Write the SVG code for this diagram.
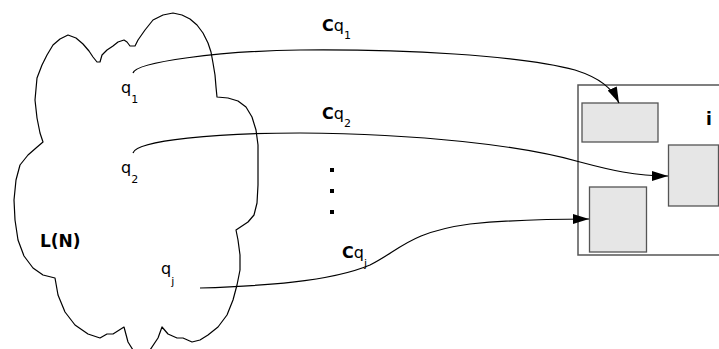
<svg xmlns="http://www.w3.org/2000/svg" width="719" height="349" viewBox="0 0 719 349">
<style>
.ln{fill:none;stroke:#000;stroke-width:1.2;stroke-linejoin:round}
.box{fill:#e6e6e6;stroke:#555;stroke-width:1.3}
.t{font-family:"DejaVu Sans",sans-serif;font-size:16px;fill:#000}
.b{font-weight:bold}
.s{font-size:11px}
</style>
<defs>
<marker id="ah" markerUnits="userSpaceOnUse" markerWidth="17" markerHeight="11" refX="16" refY="5" orient="auto">
<path d="M0,0 L16,5 L0,10 z" fill="#000"/>
</marker>
</defs>
<rect width="719" height="349" fill="#fff"/>
<g id="cloud">
<path class="ln" d="M37,78 L42,65 L47,55 L53,45 L60,39 L68,35 L76,38 L83,44 L89,51 L93,57 L97,62 L100,62 L102,55 L107,50 L113,46 L118,42 L124,40 L127,42 L130,46 L135,46 L138,40 L145,30 L153,20 L163,15 L173,13 L182,15 L190,19 L197,25 L203,33 L208,43 L211,52 L213,63 L215,75 L216,87 L217,97 L228,98 L238,101 L246,107 L252,117 L256,130 L258,145 L258,165 L258,185 L257,203 L254,215 L248,222 L236,230 L238,240 L240,255 L240,270 L237,285 L233,300 L227,315 L218,327 L208,335 L200,340 L192,342 L183,338 L177,338 L168,334 L162,327 L158,338 L150,350 L133,350 L128,342 L124,327 L113,334 L107,334 L100,338 L88,334 L75,325 L65,312 L58,295 L55,278 L43,275 L33,268 L24,256 L18,240 L15,220 L14,200 L16,180 L20,165 L28,155 L36,148 L43,142 L40,133 L37,118 L35,100 Z"/>
<text class="t b" x="40" y="247" font-size="17" style="font-size:17px">L(N)</text>
</g>
<g id="q1"><text class="t" x="121" y="93">q<tspan class="s" dy="10">1</tspan></text></g>
<g id="q2"><text class="t" x="121" y="173">q<tspan class="s" dy="10">2</tspan></text></g>
<g id="qj"><text class="t" x="161" y="274">q<tspan class="s" dy="11">j</tspan></text></g>
<g id="dots">
<rect x="330" y="168" width="4" height="4"/>
<rect x="330" y="189" width="4" height="4"/>
<rect x="330" y="210" width="4" height="4"/>
</g>
<g id="node-i">
<rect x="578" y="85" width="160" height="170" fill="#fff" stroke="#555" stroke-width="1.5"/>
<rect class="box" x="582" y="103" width="76" height="39"/>
<rect class="box" x="668.5" y="145" width="50" height="61"/>
<rect class="box" x="589.5" y="187" width="57" height="65"/>
<text class="t b" x="706" y="125" style="font-size:17px">i</text>
</g>
<g id="connectors">
<path class="ln" marker-end="url(#ah)" d="M133,73 C136,62 220,51 300,50 C400,49 520,55 575,70 C600,78 612,88 619,103"/>
<path class="ln" marker-end="url(#ah)" d="M133,153 C136,140 220,133 300,133 C420,134 520,145 580,162 C610,170 635,176 668,176"/>
<path class="ln" marker-end="url(#ah)" d="M200,288 C260,286 330,282 370,265 C400,250 410,232 470,224 C520,219 560,219 589,219"/>
<text class="t" x="322" y="31"><tspan class="b">C</tspan>q<tspan class="s" dy="8">1</tspan></text>
<text class="t" x="322" y="119"><tspan class="b">C</tspan>q<tspan class="s" dy="8">2</tspan></text>
<text class="t" x="342" y="258"><tspan class="b">C</tspan>q<tspan class="s" dy="9">j</tspan></text>
</g>
</svg>
